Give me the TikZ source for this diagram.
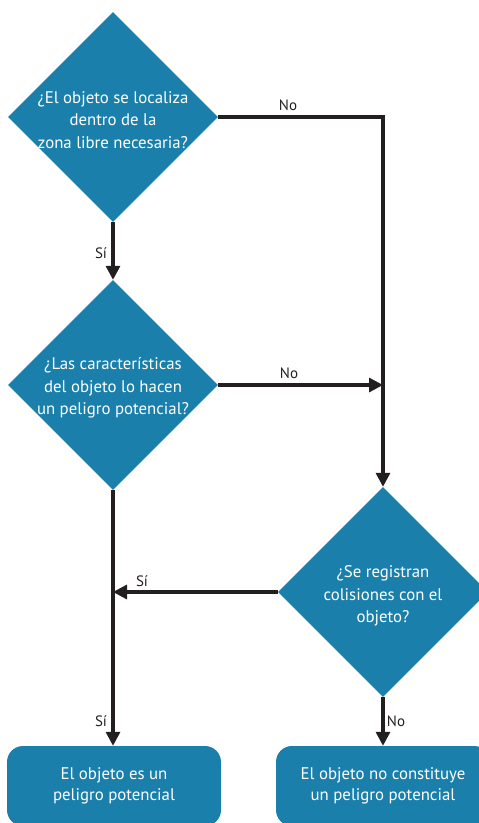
\documentclass[tikz,border=0pt]{standalone}
\usepackage{fontspec}
\setmainfont{PT Sans}
\usetikzlibrary{shapes.geometric,arrows.meta}
\definecolor{flowblue}{RGB}{26,128,171}
\definecolor{flowline}{RGB}{35,31,32}
\begin{document}
\begin{tikzpicture}[x=1pt,y=-1pt,
  decision/.style={diamond, fill=flowblue, minimum width=210pt, minimum height=210pt, inner sep=0pt},
  qtext/.style={text=white, align=center, inner sep=0pt, font=\fontsize{16.8}{22.5}\selectfont},
  outcome/.style={rectangle, rounded corners=16pt, fill=flowblue, minimum width=214pt, minimum height=80pt,
    text=white, align=center, font=\fontsize{16.8}{21.5}\selectfont},
  flow/.style={draw=flowline, line width=3.2pt, -{Triangle[length=14pt,width=14pt]}},
  lbl/.style={text=flowline, inner sep=0pt, font=\fontsize{15}{17}\selectfont}]
\useasboundingbox (0,0) rectangle (479,823);

% decisions
\node[decision] (q1) at (113,117) {};
\node[qtext] (t1) at (113,120) {¿El objeto se localiza\\dentro de la\\zona libre necesaria?};
\node[decision] (q2) at (113,385) {};
\node[qtext] (t2) at (113,388) {¿Las características\\del objeto lo hacen\\un peligro potencial?};
\node[decision] (q3) at (383,592) {};
\node[qtext] (t3) at (383,596) {¿Se registran\\colisiones con el\\objeto?};

% outcomes
\node[outcome] (r1) at (114,786) {El objeto es un\\peligro potencial};
\node[outcome] (r2) at (383,786) {El objeto no constituye\\un peligro potencial};

% connectors
\draw[flow] (q1.east) -- (q1.east -| q3.north) -- (q3.north);
\draw[flow] (q1.south) -- (q2.north);
\draw[flow] (q2.east) -- (q2.east -| q3.north);
\draw[flow] (q2.south) -- (q2.south |- r1.north);
\draw[flow] (q3.west) -- (q3.west -| q2.south);
\draw[flow] (q3.south) -- (r2.north);

% branch labels
\node[lbl] (l1) at (288,105) {No};
\node[lbl] (l2) at (101,253) {Sí};
\node[lbl] (l3) at (289,373) {No};
\node[lbl] (l4) at (142,581) {Sí};
\node[lbl] (l5) at (101,721) {Sí};
\node[lbl] (l6) at (396,721) {No};
\end{tikzpicture}
\end{document}
